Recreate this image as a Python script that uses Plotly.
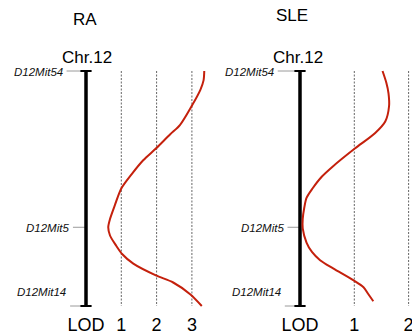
import plotly.graph_objects as go

# ---------------- data ----------------
panels = ["RA", "SLE"]
chrom_label = "Chr.12"
markers = ["D12Mit54", "D12Mit5", "D12Mit14"]
marker_pos = [0, 66.5, 100]          # map position (top = 0, bottom = 100)

ra_pos = [0, 4, 8, 15, 23, 27, 33, 38, 44, 50, 57, 63, 66.5, 70, 74, 78, 82, 87, 90, 95, 100]
ra_lod = [3.35, 3.33, 3.24, 2.99, 2.66, 2.38, 1.98, 1.62, 1.29, 1.00, 0.82, 0.68, 0.63, 0.68,
          0.84, 1.03, 1.34, 1.98, 2.47, 2.95, 3.28]

sle_pos = [0, 5, 9.5, 15, 21.5, 26.5, 33, 40.5, 45, 50, 54, 58, 63, 67, 73, 77, 80.5, 84, 89, 92, 95, 98]
sle_lod = [1.52, 1.59, 1.63, 1.64, 1.57, 1.38, 1.01, 0.61, 0.40, 0.23, 0.12, 0.08, 0.05, 0.05,
           0.12, 0.22, 0.37, 0.61, 0.98, 1.17, 1.26, 1.35]

ra_grid = [1, 2, 3]
sle_grid = [1, 2]
ra_ticks = [0, 1, 2, 3]
ra_ticktext = ["LOD", "1", "2", "3"]
sle_ticks = [0, 1, 2]
sle_ticktext = ["LOD", "1", "2"]

# ---------------- style ----------------
FONT = "Liberation Sans, Arial, Helvetica, sans-serif"
RED = "#c4200c"
W, H = 412, 336

style = {
    "RA": dict(xa="x", tick_start=[-0.55, -0.37, -0.45], title_x=-0.04, title_y=-22.1,
               chr_x=0.02),
    "SLE": dict(xa="x2", tick_start=[-0.41, -0.23, -0.28], title_x=-0.15, title_y=-23.6,
                chr_x=-0.03),
}

fig = go.Figure()

def add_panel(name, pos, lod, grid):
    st = style[name]
    xa = st["xa"]
    for g in grid:
        fig.add_trace(go.Scatter(x=[g, g], y=[marker_pos[0], marker_pos[-1]], mode="lines",
                                 line=dict(color="#666666", width=1, dash="2px,1.5px"),
                                 xaxis=xa, yaxis="y", hoverinfo="skip", showlegend=False))
    for m, p, s in zip(markers, marker_pos, st["tick_start"]):
        fig.add_trace(go.Scatter(x=[s, 0], y=[p, p], mode="lines",
                                 line=dict(color="#9a9a9a", width=1),
                                 xaxis=xa, yaxis="y", hoverinfo="skip", showlegend=False))
        fig.add_annotation(x=s, y=p, xref=xa, yref="y", text=m, showarrow=False,
                           xanchor="right", yanchor="middle", xshift=-2,
                           yshift=14 if p == marker_pos[-1] else -1,
                           font=dict(family=FONT, size=11.5, color="#111111", style="italic"))
    fig.add_trace(go.Scatter(x=[0, 0], y=[marker_pos[0], marker_pos[-1]], mode="lines+markers",
                             line=dict(color="black", width=3.5),
                             marker=dict(symbol="line-ew", size=8,
                                         line=dict(color="black", width=2)),
                             xaxis=xa, yaxis="y", hoverinfo="skip", showlegend=False))
    fig.add_trace(go.Scatter(x=lod, y=pos, mode="lines",
                             line=dict(color=RED, width=2, shape="spline", smoothing=0.8),
                             xaxis=xa, yaxis="y", hoverinfo="skip", showlegend=False))
    fig.add_annotation(x=st["title_x"], y=st["title_y"], xref=xa, yref="y", text=name,
                       showarrow=False, font=dict(family=FONT, size=17, color="black"))
    fig.add_annotation(x=st["chr_x"], y=-5.8, xref=xa, yref="y", text=chrom_label,
                       showarrow=False, font=dict(family=FONT, size=17, color="black"))

add_panel("RA", ra_pos, ra_lod, ra_grid)
add_panel("SLE", sle_pos, sle_lod, sle_grid)

# axis geometry in window pixels: RA LOD0 at 86px (35.3px/unit), SLE LOD0 at 300px (54.3px/unit)
split = 210
ra0, ra_ppu = 86, 35.3
sle0, sle_ppu = 300, 54.3
top_px = 71
ybot_px = 310
ppu = 2.35
y_top = (0 - top_px) / ppu
y_bot = (ybot_px - top_px) / ppu

xcommon = dict(showgrid=False, zeroline=False, showline=False, ticks="",
               tickfont=dict(family=FONT, size=18, color="black"),
               ticklabelstandoff=2, ticklabeloverflow="allow",
               automargin=False, fixedrange=True)

fig.update_layout(
    width=W, height=H,
    margin=dict(l=0, r=0, t=0, b=0),
    paper_bgcolor="white", plot_bgcolor="white",
    showlegend=False,
    xaxis=dict(domain=[0, split / W], range=[(0 - ra0) / ra_ppu, (split - ra0) / ra_ppu],
               tickvals=ra_ticks, ticktext=ra_ticktext, anchor="y", **xcommon),
    xaxis2=dict(domain=[split / W, 1], range=[(split - sle0) / sle_ppu, (W - sle0) / sle_ppu],
                tickvals=sle_ticks, ticktext=sle_ticktext, anchor="y", **xcommon),
    yaxis=dict(domain=[(H - ybot_px) / H, 1], range=[y_bot, y_top], visible=False,
               fixedrange=True, automargin=False),
)

fig.write_html("out.html", config={"displayModeBar": False},
               post_script="document.body.style.margin='0';document.body.style.overflow='hidden';")
